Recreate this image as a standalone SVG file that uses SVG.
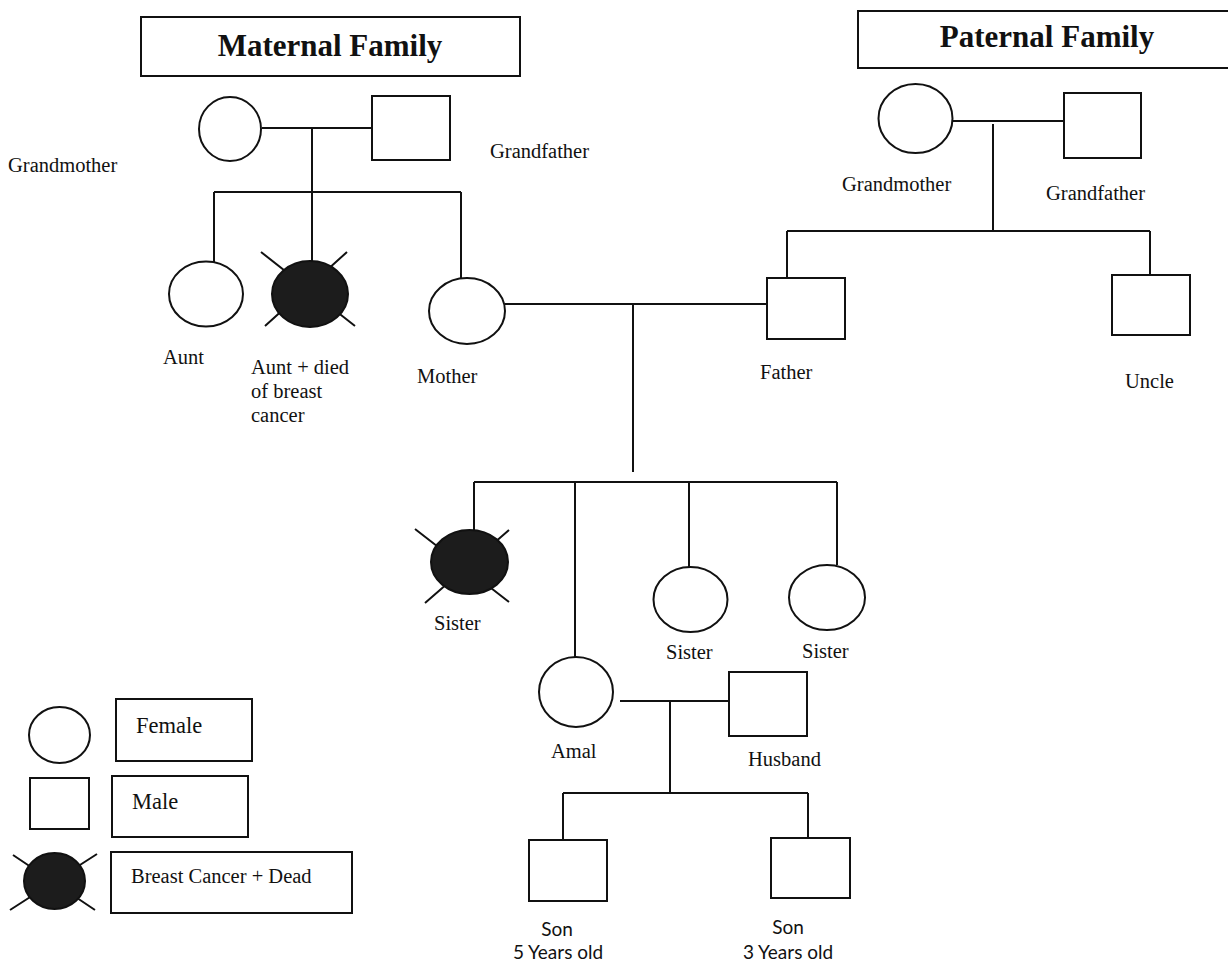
<svg xmlns="http://www.w3.org/2000/svg" width="1228" height="973" viewBox="0 0 1228 973">
<style>
.s{fill:#fff;stroke:#111;stroke-width:2}
.d{fill:#1c1c1c;stroke:#111;stroke-width:2}
.x{stroke:#111;stroke-width:2;fill:none}
.l{stroke:#111;stroke-width:2;fill:none}
.t{font-family:"Liberation Serif",serif;font-size:20.5px;fill:#111}
.h{font-family:"Liberation Serif",serif;font-size:31px;font-weight:bold;fill:#111}
.g{font-family:"Liberation Serif",serif;font-size:22.5px;fill:#111}
.c{font-family:Lato,"Liberation Sans",sans-serif;font-size:19px;fill:#111}
</style>
<rect width="1228" height="973" fill="#fff"/>
<g id="connectors">
<path class="l" d="M262 128H372M312 128V261M214 192H461M214 192V262M461 192V278"/>
<path class="l" d="M953 121H1064M993 124V231M787 231H1150M787 231V278M1150 231V275"/>
<path class="l" d="M505 304H767M633 304V472M474 482H837M474 482V530M575 482V657M689 482V567M837 482V565"/>
<path class="l" d="M620 701H729M670 701V793M563 793H808M563 793V840M808 793V838"/>
</g>
<g id="title-maternal"><rect class="s" x="141" y="17" width="379" height="59"/><text class="h" x="330" y="56" text-anchor="middle">Maternal Family</text></g>
<g id="title-paternal"><rect class="s" x="858" y="11" width="380" height="57"/><text class="h" x="1047" y="47" text-anchor="middle">Paternal Family</text></g>
<g id="m-grandmother"><ellipse class="s" cx="230" cy="129" rx="31" ry="32"/><text class="t" x="8" y="172">Grandmother</text></g>
<g id="m-grandfather"><rect class="s" x="372" y="96" width="78" height="64"/><text class="t" x="490" y="158">Grandfather</text></g>
<g id="aunt"><ellipse class="s" cx="206" cy="294" rx="37" ry="32.5"/><text class="t" x="163" y="364">Aunt</text></g>
<g id="aunt-dead"><path class="x" d="M261 252L355 326M347 252L265 326"/><ellipse class="d" cx="310" cy="294" rx="38" ry="33"/><text class="t" x="251" y="374">Aunt + died</text><text class="t" x="251" y="398">of breast</text><text class="t" x="251" y="422">cancer</text></g>
<g id="mother"><ellipse class="s" cx="467" cy="311" rx="38" ry="33"/><text class="t" x="417" y="383">Mother</text></g>
<g id="p-grandmother"><ellipse class="s" cx="915.5" cy="118.5" rx="37" ry="34.5"/><text class="t" x="842" y="191">Grandmother</text></g>
<g id="p-grandfather"><rect class="s" x="1064" y="93" width="77" height="65"/><text class="t" x="1046" y="200">Grandfather</text></g>
<g id="father"><rect class="s" x="767" y="278" width="78" height="61"/><text class="t" x="760" y="379">Father</text></g>
<g id="uncle"><rect class="s" x="1112" y="275" width="78" height="60"/><text class="t" x="1125" y="388">Uncle</text></g>
<g id="sister-dead"><path class="x" d="M415 529L509 602M509 530L425 603"/><ellipse class="d" cx="469.5" cy="562" rx="38.5" ry="32"/><text class="t" x="434" y="630">Sister</text></g>
<g id="sister2"><ellipse class="s" cx="690.5" cy="599.5" rx="37" ry="32.5"/><text class="t" x="666" y="659">Sister</text></g>
<g id="sister3"><ellipse class="s" cx="827" cy="597.5" rx="38" ry="32.5"/><text class="t" x="802" y="658">Sister</text></g>
<g id="amal"><ellipse class="s" cx="576" cy="692" rx="37" ry="35"/><text class="t" x="551" y="758">Amal</text></g>
<g id="husband"><rect class="s" x="729" y="672" width="78" height="64"/><text class="t" x="748" y="766">Husband</text></g>
<g id="son1"><rect class="s" x="529" y="840" width="78" height="61"/><text class="c" x="557" y="936" text-anchor="middle">Son</text><text class="c" x="558" y="959" text-anchor="middle">5 Years old</text></g>
<g id="son2"><rect class="s" x="771" y="838" width="79" height="60"/><text class="c" x="788" y="934" text-anchor="middle">Son</text><text class="c" x="788" y="959" text-anchor="middle">3 Years old</text></g>
<g id="legend-female"><ellipse class="s" cx="59.5" cy="735" rx="30.5" ry="28"/><rect class="s" x="116" y="699" width="136" height="62"/><text class="g" x="136" y="733">Female</text></g>
<g id="legend-male"><rect class="s" x="30" y="778" width="59" height="51"/><rect class="s" x="112" y="776" width="136" height="61"/><text class="g" x="132" y="809">Male</text></g>
<g id="legend-dead"><path class="x" d="M13 855L95 910M97 854L10 910"/><ellipse class="d" cx="54.5" cy="881" rx="30.5" ry="28"/><rect class="s" x="111" y="852" width="241" height="61"/><text class="t" x="131" y="883">Breast Cancer + Dead</text></g>
</svg>
